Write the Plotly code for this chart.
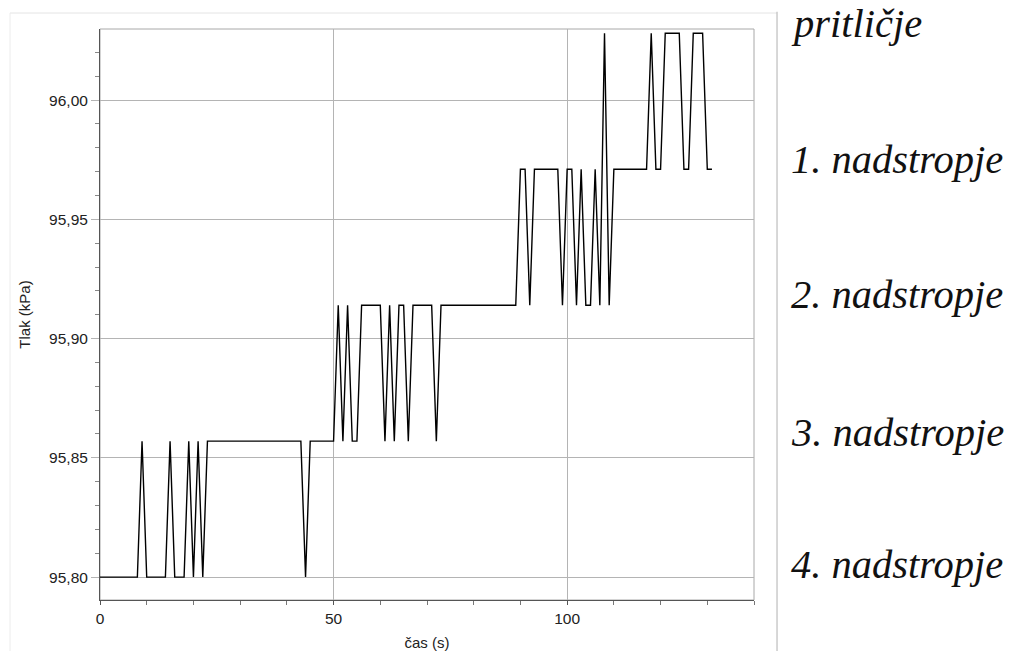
import plotly.graph_objects as go

# time in seconds (1 s sampling)
time_s = list(range(0, 132))

# pressure in kPa
pressure_kpa = [
    95.800, 95.800, 95.800, 95.800, 95.800, 95.800, 95.800, 95.800, 95.800, 95.857,   # 0-9
    95.800, 95.800, 95.800, 95.800, 95.800, 95.857, 95.800, 95.800, 95.800, 95.857,   # 10-19
    95.800, 95.857, 95.800, 95.857, 95.857, 95.857, 95.857, 95.857, 95.857, 95.857,   # 20-29
    95.857, 95.857, 95.857, 95.857, 95.857, 95.857, 95.857, 95.857, 95.857, 95.857,   # 30-39
    95.857, 95.857, 95.857, 95.857, 95.800, 95.857, 95.857, 95.857, 95.857, 95.857,   # 40-49
    95.857, 95.914, 95.857, 95.914, 95.857, 95.857, 95.914, 95.914, 95.914, 95.914,   # 50-59
    95.914, 95.857, 95.914, 95.857, 95.914, 95.914, 95.857, 95.914, 95.914, 95.914,   # 60-69
    95.914, 95.914, 95.857, 95.914, 95.914, 95.914, 95.914, 95.914, 95.914, 95.914,   # 70-79
    95.914, 95.914, 95.914, 95.914, 95.914, 95.914, 95.914, 95.914, 95.914, 95.914,   # 80-89
    95.971, 95.971, 95.914, 95.971, 95.971, 95.971, 95.971, 95.971, 95.971, 95.914,   # 90-99
    95.971, 95.971, 95.914, 95.971, 95.914, 95.914, 95.971, 95.914, 96.028, 95.914,   # 100-109
    95.971, 95.971, 95.971, 95.971, 95.971, 95.971, 95.971, 95.971, 96.028, 95.971,   # 110-119
    95.971, 96.028, 96.028, 96.028, 96.028, 95.971, 95.971, 96.028, 96.028, 96.028,   # 120-129
    95.971, 95.971,                                                                   # 130-131
]

floor_labels = ["pritličje", "1. nadstropje", "2. nadstropje", "3. nadstropje", "4. nadstropje"]
floor_label_y = [1.0105, 0.7723, 0.5342, 0.2942, 0.0630]   # paper coords (layout positions)

x_title = "čas (s)"
y_title = "Tlak (kPa)"

fig = go.Figure()
fig.add_trace(go.Scatter(
    x=time_s, y=pressure_kpa, mode="lines",
    line=dict(color="black", width=1.4),
    hoverinfo="x+y", showlegend=False,
))

axis_font = dict(family="Liberation Sans, Arial, sans-serif", size=15.5, color="#222222")
title_font = dict(family="Liberation Sans, Arial, sans-serif", size=15, color="#222222")

fig.update_layout(
    width=1011, height=651,
    margin=dict(l=100, r=257, t=29, b=51, autoexpand=False),
    paper_bgcolor="white", plot_bgcolor="white",
    separators=", ",
    font=axis_font,
    xaxis=dict(
        range=[0, 140], dtick=50, tick0=0,
        showgrid=True, gridcolor="#b4b4b4", gridwidth=1,
        zeroline=False,
        showline=True, linecolor="#555555", linewidth=1,
        ticks="outside", ticklen=4, tickcolor="#555555",
        minor=dict(dtick=10, tick0=0, ticks="outside", ticklen=4, tickcolor="#777777", showgrid=False),
        tickfont=axis_font,
        title=dict(text=x_title, font=title_font, standoff=12),
    ),
    yaxis=dict(
        range=[95.7904, 96.0298], dtick=0.05, tick0=95.80, tickformat=".2f",
        showgrid=True, gridcolor="#b4b4b4", gridwidth=1,
        zeroline=False,
        showline=True, linecolor="#555555", linewidth=1,
        ticks="outside", ticklen=8, tickcolor="#b4b4b4",
        minor=dict(dtick=0.01, tick0=95.80, ticks="outside", ticklen=4, tickcolor="#888888", showgrid=False),
        tickfont=axis_font,
        title=dict(text=y_title, font=title_font, standoff=14),
    ),
)

# plot frame (top/right) and outer panel frame
fig.add_shape(type="rect", xref="paper", yref="paper", x0=0, x1=1, y0=0, y1=1,
              line=dict(color="#a8a8a8", width=1), layer="below")
fig.add_shape(type="line", xref="paper", yref="paper", x0=-0.1376, x1=1.0352, y0=1.0280, y1=1.0280,
              line=dict(color="#e4e4e4", width=1))
fig.add_shape(type="line", xref="paper", yref="paper", x0=-0.1376, x1=-0.1376, y0=1.0280, y1=-0.15,
              line=dict(color="#ececec", width=1))
fig.add_shape(type="line", xref="paper", yref="paper", x0=1.0352, x1=1.0352, y0=1.0300, y1=-0.15,
              line=dict(color="#bdbdbd", width=1.2))

for label, yp in zip(floor_labels, floor_label_y):
    fig.add_annotation(
        text="<i>" + label + "</i>", xref="paper", yref="paper", x=1.053, y=yp,
        xanchor="left", yanchor="middle", showarrow=False,
        font=dict(family="Liberation Serif, Times New Roman, serif", size=40.5, color="#111111"),
    )

# remove the default page margin so the figure fills the window exactly; no modebar
fig.write_html("out.html", config={"displayModeBar": False},
               post_script="document.body.style.margin='0';")
